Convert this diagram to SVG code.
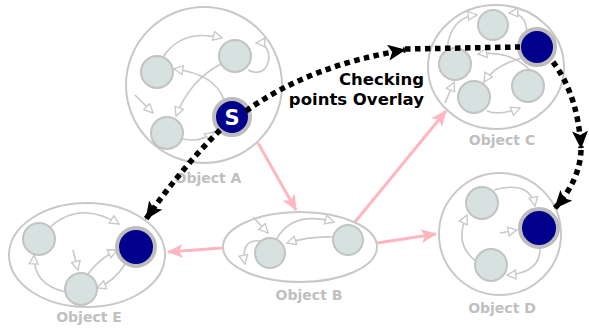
<svg xmlns="http://www.w3.org/2000/svg" width="589" height="333" viewBox="0 0 589 333">
<defs>
<style>
.obj{fill:none;stroke:#c8c8c8;stroke-width:2}
.n{fill:#d6e1e0;stroke:#c3c3c3;stroke-width:2}
.d{fill:#00008c;stroke:#bdbdbd;stroke-width:4}
.e{fill:none;stroke:#c8c8c8;stroke-width:1.6;marker-end:url(#ga)}
.p{fill:none;stroke:#ffb6c1;stroke-width:3;marker-end:url(#pa)}
.k{fill:none;stroke:#000;stroke-width:5.5;stroke-dasharray:5.5 4.5}
.lab{font-family:"DejaVu Sans",sans-serif;font-weight:bold;font-size:14px;fill:#c0c0c0;text-anchor:middle}
.t{font-family:"DejaVu Sans",sans-serif;font-weight:bold;font-size:16.5px;fill:#000;text-anchor:end}
</style>
<marker id="ga" viewBox="0 0 10 10" refX="9" refY="5" markerWidth="11" markerHeight="11" markerUnits="userSpaceOnUse" orient="auto"><path d="M1,1 L9,5 L1,9 Z" fill="#fff" stroke="#c8c8c8" stroke-width="1.2"/></marker>
<marker id="pa" viewBox="0 0 16 14" refX="15" refY="7" markerWidth="16" markerHeight="14" markerUnits="userSpaceOnUse" orient="auto"><path d="M0,0 L16,7 L0,14 L4,7 Z" fill="#ffb6c1"/></marker>
<marker id="ka" viewBox="0 0 18 16" refX="17" refY="8" markerWidth="18" markerHeight="16" markerUnits="userSpaceOnUse" orient="auto"><path d="M0,0 L18,8 L0,16 L4,8 Z" fill="#000"/></marker>
</defs>

<g id="connectors">
<path class="p" d="M258,143 L296,210"/>
<path class="p" d="M222,248 L168,252"/>
<path class="p" d="M377,243 L436,234"/>
<path class="p" d="M355,222 L446,111"/>
</g>

<g id="objectA">
<circle class="obj" cx="204" cy="85" r="78"/>
<path class="e" d="M163,57 Q182,28 222,38"/>
<path class="e" d="M248,70 C272,82 276,42 256,43"/>
<path class="e" d="M221,64 Q190,80 176,116"/>
<path class="e" d="M224,100 Q215,74 174,69"/>
<path class="e" d="M135,95 L153,113"/>
<path class="e" d="M183,139 Q200,143 214,132"/>
<circle class="n" cx="157" cy="72" r="16"/>
<circle class="n" cx="235" cy="56" r="16"/>
<circle class="n" cx="167" cy="133" r="16"/>
<circle class="d" cx="232" cy="117" r="18"/>
<text x="232" y="124.5" font-family="DejaVu Sans,sans-serif" font-weight="bold" font-size="21" fill="#fff" text-anchor="middle">S</text>
<text class="lab" x="208" y="183">Object A</text>
</g>

<g id="objectC">
<ellipse class="obj" cx="496" cy="67" rx="68" ry="62"/>
<path class="e" d="M447,50 Q450,17 477,15"/>
<path class="e" d="M527,31 Q525,12 509,13"/>
<path class="e" d="M530,70 Q510,50 478,54"/>
<path class="e" d="M522,58 Q495,65 484,82"/>
<path class="e" d="M445,103 L454,82"/>
<path class="e" d="M487,111 Q500,116 520,108"/>
<circle class="n" cx="493" cy="25" r="15"/>
<circle class="n" cx="455" cy="64" r="16"/>
<circle class="n" cx="474" cy="97" r="16"/>
<circle class="n" cx="528" cy="86" r="16"/>
<circle class="d" cx="537" cy="47" r="18"/>
<text class="lab" x="502" y="145">Object C</text>
</g>

<g id="objectB">
<ellipse class="obj" cx="300" cy="247" rx="77" ry="35"/>
<path class="e" d="M253,217 L268,233"/>
<path class="e" d="M276,240 Q292,210 334,222"/>
<path class="e" d="M333,237 Q310,236 287,243"/>
<path class="e" d="M262,241 Q240,238 245,264"/>
<circle class="n" cx="270" cy="253" r="15"/>
<circle class="n" cx="348" cy="240" r="15"/>
<text class="lab" x="309" y="300">Object B</text>
</g>

<g id="objectD">
<circle class="obj" cx="500" cy="234" r="61"/>
<path class="e" d="M494,190 Q530,180 535,206"/>
<path class="e" d="M500,233 L517,230"/>
<path class="e" d="M540,247 Q541,273 507,275"/>
<path class="e" d="M477,262 Q453,245 467,215"/>
<circle class="n" cx="482" cy="203" r="16"/>
<circle class="n" cx="491" cy="265" r="16"/>
<circle class="d" cx="539" cy="228" r="19"/>
<text class="lab" x="502" y="313">Object D</text>
</g>

<g id="objectE">
<ellipse class="obj" cx="87" cy="255" rx="78" ry="52"/>
<path class="e" d="M50,227 Q80,200 119,224"/>
<path class="e" d="M73,250 L78,270"/>
<path class="e" d="M88,274 Q100,258 117,250"/>
<path class="e" d="M125,264 Q115,281 97,288"/>
<path class="e" d="M66,292 Q33,285 34,255"/>
<circle class="n" cx="39" cy="239" r="16"/>
<circle class="n" cx="81" cy="289" r="16"/>
<circle class="d" cx="136" cy="247" r="19"/>
<text class="lab" x="89" y="322">Object E</text>
</g>

<g id="overlay">
<path class="k" d="M220,130 Q180,170 146,219" marker-end="url(#ka)"/>
<path class="k" d="M246,111 Q310,65 405,50" marker-end="url(#ka)"/>
<path class="k" d="M405,49 L520,47"/>
<path class="k" d="M553,62 Q578,95 581,148" marker-end="url(#ka)"/>
<path class="k" d="M581,150 Q580,180 555,208" marker-end="url(#ka)"/>
<text class="t" x="424" y="85">Checking</text>
<text class="t" x="424" y="105">points Overlay</text>
</g>
</svg>
